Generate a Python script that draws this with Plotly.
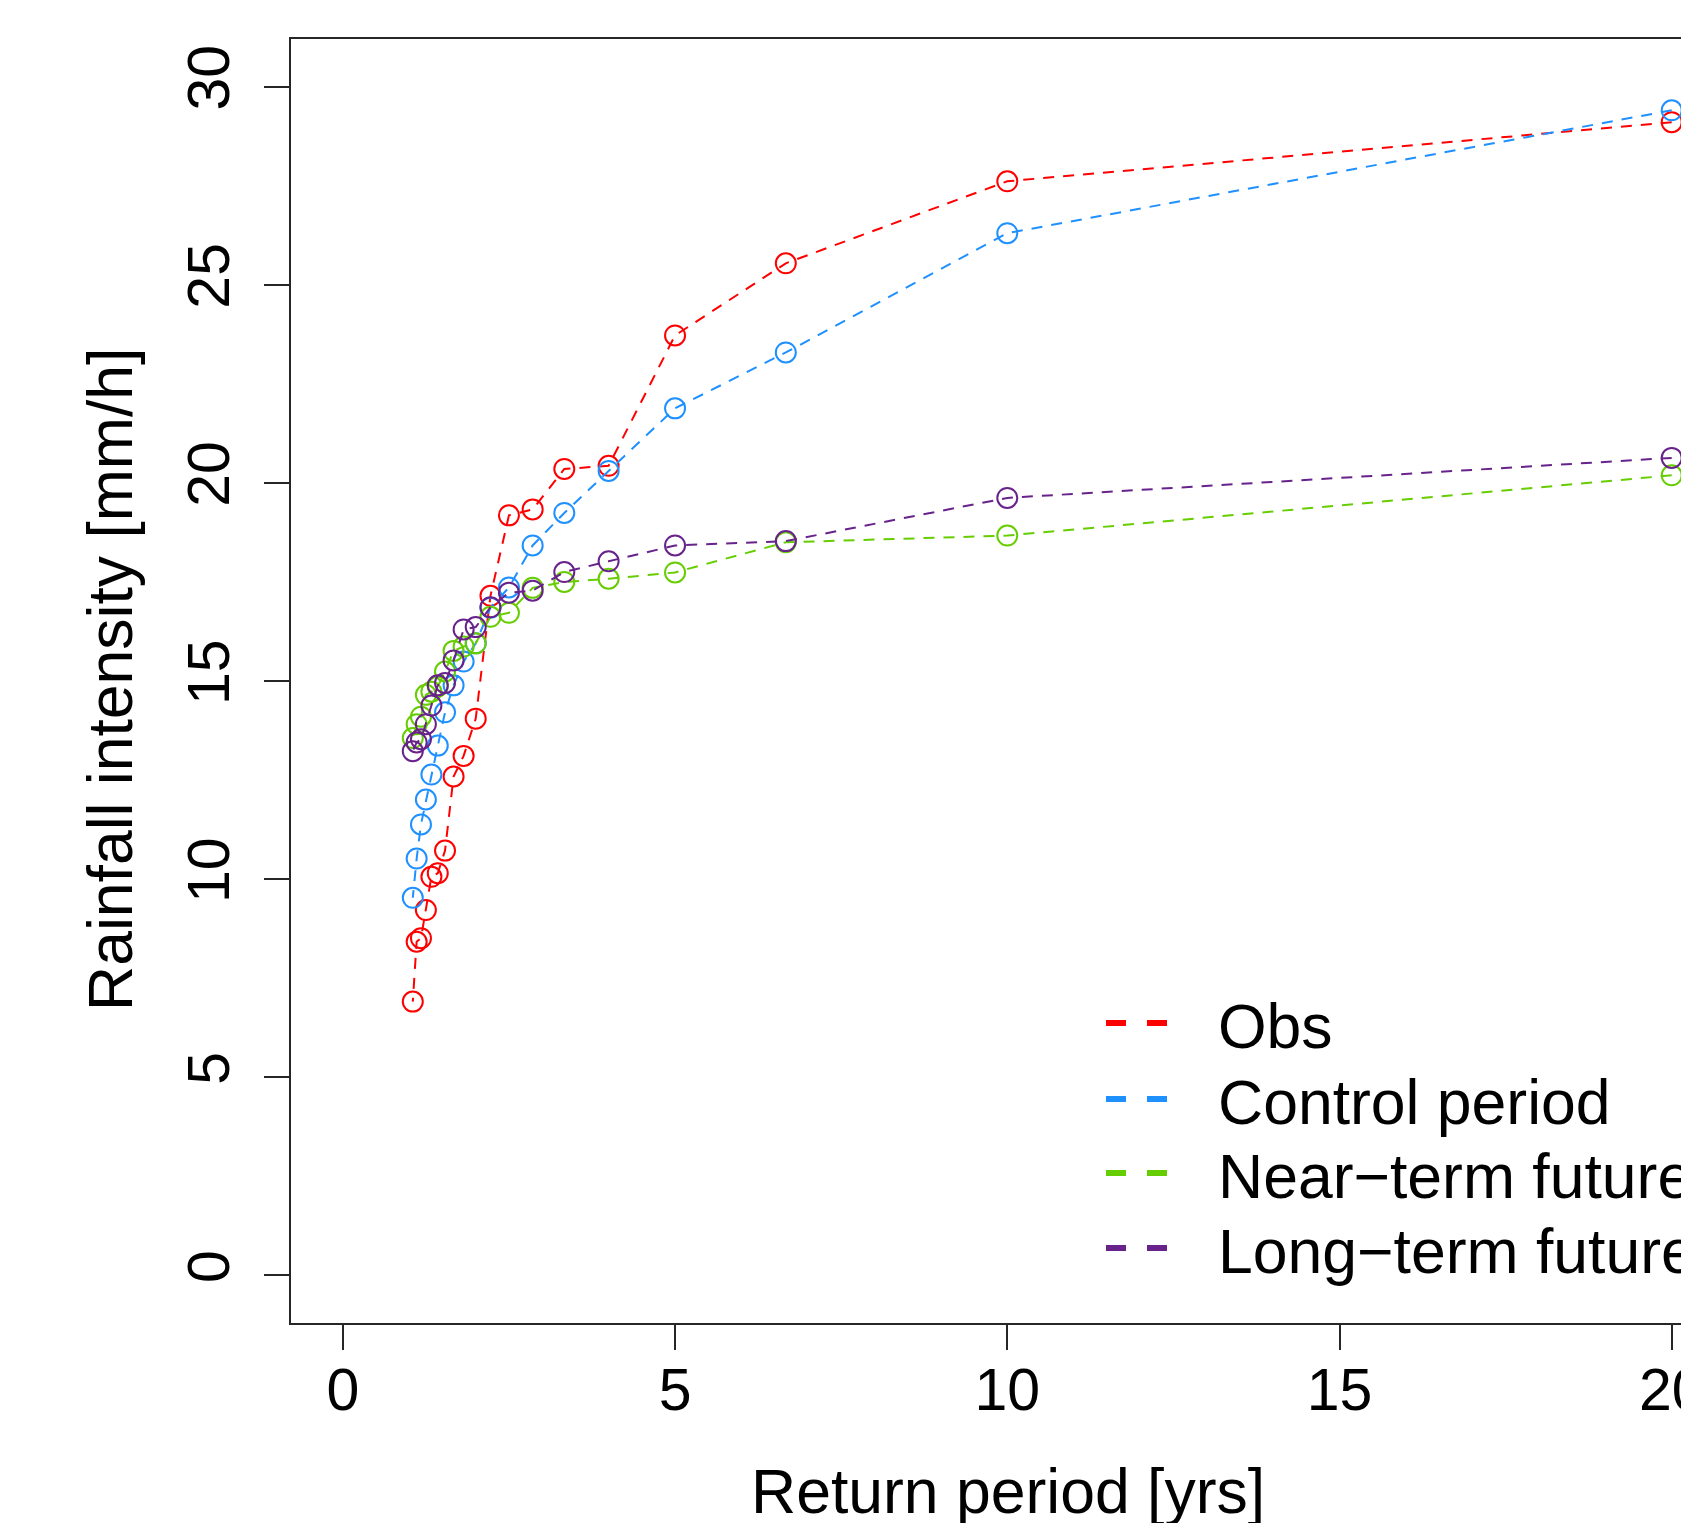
import plotly.graph_objects as go

# Return periods (years) for ranks 1..19: T = 20/m
return_period = [20.0, 10.0, 6.667, 5.0, 4.0, 3.333, 2.857, 2.5, 2.222, 2.0,
                 1.818, 1.667, 1.538, 1.429, 1.333, 1.25, 1.176, 1.111, 1.053]

obs = [29.10, 27.61, 25.54, 23.72, 20.43, 20.35, 19.33, 19.18, 17.15, 14.05,
       13.11, 12.59, 10.72, 10.15, 10.06, 9.22, 8.51, 8.42, 6.91]
control = [29.40, 26.30, 23.29, 21.88, 20.30, 19.24, 18.42, 17.36, 16.85, 15.95,
           15.49, 14.89, 14.21, 13.37, 12.64, 12.01, 11.38, 10.52, 9.53]
near = [20.19, 18.67, 18.50, 17.74, 17.58, 17.50, 17.35, 16.72, 16.62, 15.95,
        15.87, 15.76, 15.24, 14.86, 14.73, 14.65, 14.10, 13.91, 13.56]
long_term = [20.63, 19.62, 18.53, 18.42, 18.02, 17.75, 17.28, 17.23, 16.86, 16.36,
             16.30, 15.52, 14.95, 14.89, 14.38, 13.91, 13.53, 13.45, 13.23]

series_names = ["Obs", "Control period", "Near\u2212term future", "Long\u2212term future"]
series_values = [obs, control, near, long_term]
series_colors = ["#FF0000", "#1E90FF", "#66CD00", "#68228B"]

x_ticks = [0, 5, 10, 15, 20]
y_ticks = [0, 5, 10, 15, 20, 25, 30]

FONT = "Liberation Sans, Arial, sans-serif"
OFF = 8  # page body margin
W, H = 1689 - OFF, 1523 - OFF
L, T, R = 291 - OFF, 39 - OFF, 0
B = H - (1323 - OFF)
PW, PH = W - L - R, H - T - B

def px(page_x):
    return (page_x - OFF - L) / PW

def py(page_y):
    return (H - B - (page_y - OFF)) / PH

fig = go.Figure()
for name, vals, col in zip(series_names, series_values, series_colors):
    fig.add_trace(go.Scatter(
        x=return_period, y=vals, name=name, mode="lines+markers",
        line=dict(color=col, width=2, dash="11px,9px"),
        marker=dict(symbol="circle-open", size=20, color=col, line=dict(width=2, color=col)),
        showlegend=False,
    ))

axis_col = "#262626"
fig.update_xaxes(range=[-0.78, 20.26], tickvals=x_ticks, ticktext=[str(v) for v in x_ticks],
                 ticks="outside", ticklen=25, tickwidth=2, tickcolor=axis_col,
                 showline=True, linecolor=axis_col, linewidth=2, mirror=True,
                 showgrid=False, zeroline=False, ticklabeloverflow="allow", automargin=False,
                 tickfont=dict(family=FONT, size=59, color="black"), ticklabelstandoff=-11)
fig.update_yaxes(range=[-1.2, 31.2], tickvals=y_ticks, ticktext=[str(v) for v in y_ticks],
                 ticks="outside", ticklen=25, tickwidth=2, tickcolor=axis_col,
                 showline=True, linecolor=axis_col, linewidth=2, mirror=False,
                 showgrid=False, zeroline=False, tickangle=-90, ticklabeloverflow="allow",
                 automargin=False,
                 tickfont=dict(family=FONT, size=59, color="black"), ticklabelstandoff=11)

annotations = [
    dict(text="Return period [yrs]", x=px(1007.5), y=py(1491), xref="paper", yref="paper",
         xanchor="center", yanchor="middle", showarrow=False,
         font=dict(family=FONT, size=62.5, color="black")),
    dict(text="Rainfall intensity [mm/h]", x=px(110), y=py(680), xref="paper", yref="paper",
         xanchor="center", yanchor="middle", showarrow=False, textangle=-90,
         font=dict(family=FONT, size=62.5, color="black")),
]
shapes = []
legend_y = [1023, 1099, 1173, 1248]
for name, col, ly in zip(series_names, series_colors, legend_y):
    shapes.append(dict(type="line", xref="paper", yref="paper",
                       x0=px(1106), x1=px(1167), y0=py(ly), y1=py(ly),
                       line=dict(color=col, width=6, dash="20px,21px")))
    annotations.append(dict(text=name, x=px(1216), y=py(ly + 2.5), xref="paper", yref="paper",
                            xanchor="left", yanchor="middle", showarrow=False,
                            font=dict(family=FONT, size=62.5, color="black")))

fig.update_layout(width=W, height=H, margin=dict(l=L, r=R, t=T, b=B, pad=0, autoexpand=False),
                  plot_bgcolor="white", paper_bgcolor="white",
                  annotations=annotations, shapes=shapes, showlegend=False)
fig.write_html("out.html")
